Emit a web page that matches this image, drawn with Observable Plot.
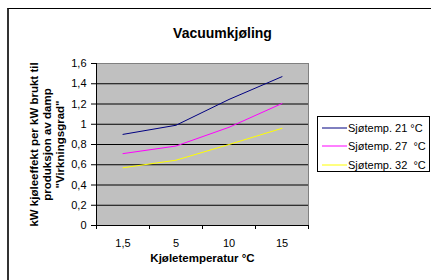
<!DOCTYPE html>
<html><head><meta charset="utf-8">
<script src="https://cdn.jsdelivr.net/npm/d3@7"></script>
<script src="https://cdn.jsdelivr.net/npm/@observablehq/plot@0.6"></script>
<style>
body{margin:0;background:#fff;}
#wrap{position:relative;width:431px;height:280px;overflow:hidden;font-family:"Liberation Sans",Arial,sans-serif;}
#frame{position:absolute;left:7px;top:8px;width:450px;height:300px;border-top:1px solid #000;border-left:2px solid #333;box-sizing:border-box;}
#legend{position:absolute;left:317px;top:116px;width:113px;height:56px;border:1px solid #000;box-sizing:border-box;background:#fff;font-size:11px;}
.row{position:absolute;left:0;height:14px;display:flex;align-items:center;white-space:pre;}
.row svg{margin-left:4px;margin-right:1px;}
#chart{position:absolute;left:0;top:0;}
</style>
</head><body>
<div id="wrap"><div id="frame"></div><div id="chart"></div><div id="legend"></div></div>
<script>
const categories = ["1,5", "5", "10", "15"];
const seriesNames = ["Sjøtemp. 21 °C", "Sjøtemp. 27  °C", "Sjøtemp. 32  °C"];
const s21 = [0.90, 0.99, 1.245, 1.47];
const s27 = [0.71, 0.785, 0.97, 1.205];
const s32 = [0.57, 0.645, 0.80, 0.96];
const colors = ["#000080", "#ff00ff", "#ffff00"];
const yTicks = [0, 0.2, 0.4, 0.6, 0.8, 1, 1.2, 1.4, 1.6];
const title = "Vacuumkjøling";
const xTitle = "Kjøletemperatur °C";
const yTitle = "kW kjøleeffekt per kW brukt til\nproduksjon av damp\n\"Virkningsgrad\"";

const seriesValues = [s21, s27, s32];
const rows = [];
seriesValues.forEach((vals, k) => vals.forEach((v, i) => rows.push({i, cat: categories[i], value: v, series: seriesNames[k]})));
const idx = categories.map((c, i) => i);
const boundaries = [...idx.map(i => i - 0.5), categories.length - 0.5];
const fmt = d => String(+d.toFixed(1)).replace(".", ",");

const chart = Plot.plot({
  width: 431, height: 280,
  marginLeft: 96, marginRight: 123, marginTop: 63, marginBottom: 55,
  style: {fontFamily: "'Liberation Sans', Arial, sans-serif", fontSize: "11px", background: "transparent", overflow: "visible", color: "#000"},
  x: {type: "linear", domain: [-0.5, categories.length - 0.5]},
  y: {domain: [0, 1.6]},
  color: {domain: seriesNames, range: colors},
  marks: [
    Plot.frame({fill: "#c0c0c0", stroke: "#808080"}),
    Plot.ruleY(yTicks.filter(d => d > 0 && d < 1.6), {stroke: "#000"}),
    Plot.line(rows, {x: "i", y: "value", stroke: "series", strokeWidth: 1}),
    Plot.ruleX([-0.5], {stroke: "#000"}),
    Plot.ruleY([0], {stroke: "#000"}),
    Plot.axisY({ticks: yTicks, tickSize: 5, tickPadding: 5, tickFormat: fmt, label: null, fontSize: 11}),
    Plot.axisX({ticks: boundaries, tickSize: 4, tickFormat: () => "", label: null}),
    Plot.axisX({ticks: idx, tickSize: 0, tickPadding: 14, tickFormat: i => categories[i], label: null, fontSize: 11}),
    Plot.text([title], {frameAnchor: "top", dx: 20, dy: -35.5, fontWeight: "bold", fontSize: 14}),
    Plot.text([xTitle], {frameAnchor: "bottom", dy: 36, fontWeight: "bold", fontSize: 11.5}),
    Plot.text([yTitle], {frameAnchor: "left", textAnchor: "middle", dx: -50, dy: 0, rotate: -90, fontWeight: "bold", fontSize: 11.5, lineHeight: 1.13})
  ]
});
document.getElementById("chart").appendChild(chart);

const legend = document.getElementById("legend");
const rowTops = [4, 22, 41];
seriesNames.forEach((name, k) => {
  const r = document.createElement("div");
  r.className = "row";
  r.style.top = rowTops[k] + "px";
  r.innerHTML = `<svg width="25" height="4"><line x1="0" x2="25" y1="2" y2="2" stroke="${colors[k]}" stroke-width="1"/></svg><span>${name}</span>`;
  legend.appendChild(r);
});
</script>
</body></html>
